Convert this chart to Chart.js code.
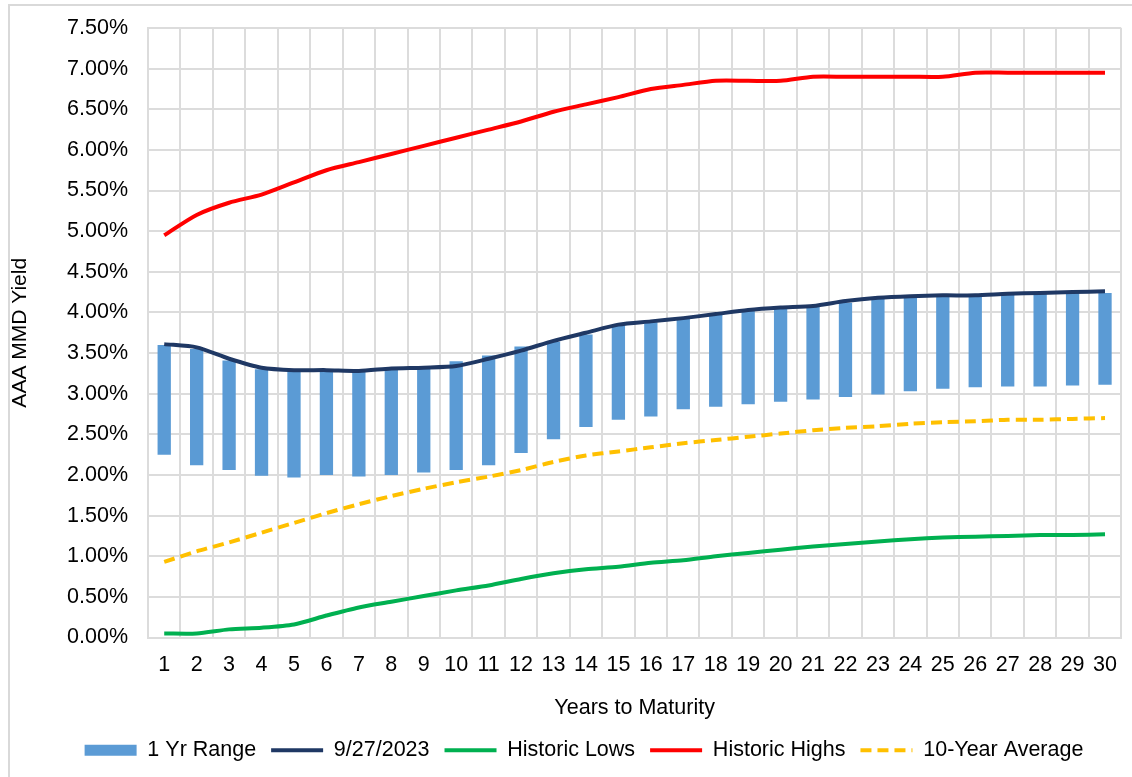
<!DOCTYPE HTML>
<html>
    <head>
        <meta charset="utf-8">
        <title>AAA MMD Yield Curve</title>
        <script src="https://cdn.jsdelivr.net/npm/chart.js"></script>
        <style>
            body {
                margin: 0;
                background: #ffffff;
                overflow: hidden;
            }
            .frame {
                position: absolute;
                left: 8px;
                top: 4px;
                width: 1200px;
                height: 900px;
                border: 2px solid #d9d9d9;
            }
            .chartContainer {
                position: absolute;
                left: 0;
                top: 0;
                width: 1132px;
                height: 777px;
            }
        </style>
    </head>
    <body>
        <div class="frame"></div>
        <div class="chartContainer">
            <canvas id="yieldCurve"></canvas>
        </div>
        <script>
            const years = ['1','2','3','4','5','6','7','8','9','10','11','12','13','14','15',
                           '16','17','18','19','20','21','22','23','24','25','26','27','28','29','30'];

            // 1 Yr Range (low / high), in percent
            const rangeLow = [2.25, 2.12, 2.06, 1.99, 1.97, 2.00, 1.98, 2.00, 2.03, 2.06,
                              2.12, 2.27, 2.44, 2.59, 2.68, 2.72, 2.81, 2.84, 2.87, 2.90,
                              2.93, 2.96, 2.99, 3.03, 3.06, 3.08, 3.09, 3.09, 3.10, 3.11];
            const rangeHigh = [3.60, 3.55, 3.41, 3.30, 3.28, 3.28, 3.27, 3.30, 3.32, 3.40,
                               3.47, 3.58, 3.64, 3.73, 3.84, 3.88, 3.92, 3.97, 4.02, 4.05,
                               4.07, 4.12, 4.17, 4.19, 4.20, 4.20, 4.22, 4.23, 4.24, 4.24];

            const current = [3.61, 3.57, 3.43, 3.32, 3.29, 3.29, 3.28, 3.31, 3.32, 3.34,
                             3.43, 3.53, 3.65, 3.75, 3.85, 3.89, 3.93, 3.98, 4.03, 4.06,
                             4.08, 4.14, 4.18, 4.20, 4.21, 4.21, 4.23, 4.24, 4.25, 4.26];

            const historicLows = [0.05, 0.05, 0.10, 0.12, 0.16, 0.27, 0.37, 0.44, 0.51, 0.58,
                                  0.64, 0.72, 0.79, 0.84, 0.87, 0.92, 0.95, 1.00, 1.04, 1.08,
                                  1.12, 1.15, 1.18, 1.21, 1.23, 1.24, 1.25, 1.26, 1.26, 1.27];

            const historicHighs = [4.95, 5.20, 5.35, 5.45, 5.60, 5.75, 5.85, 5.95, 6.05, 6.15,
                                   6.25, 6.35, 6.47, 6.56, 6.65, 6.75, 6.80, 6.85, 6.85, 6.85,
                                   6.90, 6.90, 6.90, 6.90, 6.90, 6.95, 6.95, 6.95, 6.95, 6.95];

            const tenYearAvg = [0.93, 1.06, 1.17, 1.29, 1.41, 1.53, 1.64, 1.74, 1.83, 1.91,
                                1.98, 2.06, 2.16, 2.24, 2.29, 2.34, 2.39, 2.43, 2.47, 2.51,
                                2.55, 2.58, 2.60, 2.63, 2.65, 2.66, 2.68, 2.68, 2.69, 2.70];

            const gridColor = '#dcdcdc';
            const fontFamily = '"Liberation Sans", Arial, sans-serif';

            function lineDataset(label, values, color, dash) {
                return {
                    type: 'line',
                    label: label,
                    data: values,
                    borderColor: color,
                    backgroundColor: color,
                    borderWidth: 4,
                    borderDash: dash || [],
                    pointRadius: 0,
                    tension: 0.25,
                    order: 1
                };
            }

            // move legend so that it is centred on the whole (cropped) chart frame
            const shiftLegend = {
                id: 'shiftLegend',
                afterLayout(chart) {
                    chart.legend.left += 19;
                    chart.legend.right += 19;
                }
            };

            const rangeBars = years.map((y, i) => [rangeLow[i], rangeHigh[i]]);

            const config = {
                type: 'bar',
                data: {
                    labels: years,
                    datasets: [
                        {
                            type: 'bar',
                            label: '1 Yr Range',
                            data: rangeBars,
                            backgroundColor: '#5b9bd5',
                            borderWidth: 0,
                            barPercentage: 0.41,
                            categoryPercentage: 1,
                            order: 5
                        },
                        lineDataset('9/27/2023', current, '#1f3864'),
                        lineDataset('Historic Lows', historicLows, '#00b050'),
                        lineDataset('Historic Highs', historicHighs, '#ff0000'),
                        lineDataset('10-Year Average', tenYearAvg, '#ffc000', [11, 6])
                    ]
                },
                options: {
                    responsive: true,
                    maintainAspectRatio: false,
                    animation: false,
                    devicePixelRatio: 1,
                    layout: {
                        padding: { top: 28, right: 2, bottom: 6, left: 0 }
                    },
                    font: { family: fontFamily, size: 21.5 },
                    color: '#000000',
                    plugins: {
                        tooltip: { enabled: false },
                        legend: {
                            position: 'bottom',
                            labels: {
                                usePointStyle: true,
                                pointStyleWidth: 52,
                                boxHeight: 11,
                                padding: 15,
                                color: '#000000',
                                font: { family: fontFamily, size: 21.5 },
                                generateLabels: function(chart) {
                                    return chart.data.datasets.map(function(ds, i) {
                                        const isLine = ds.type === 'line';
                                        return {
                                            text: ds.label,
                                            datasetIndex: i,
                                            fillStyle: ds.backgroundColor,
                                            strokeStyle: isLine ? ds.borderColor : ds.backgroundColor,
                                            lineWidth: isLine ? 4 : 0,
                                            lineDash: ds.borderDash || [],
                                            pointStyle: isLine ? 'line' : 'rect',
                                            hidden: false
                                        };
                                    });
                                }
                            }
                        }
                    },
                    scales: {
                        x: {
                            grid: {
                                color: gridColor,
                                lineWidth: 2,
                                drawTicks: false,
                                offset: true
                            },
                            border: { color: gridColor, width: 2 },
                            ticks: {
                                padding: 15,
                                color: '#000000',
                                maxRotation: 0,
                                autoSkip: false,
                                font: { family: fontFamily, size: 21.5 }
                            },
                            title: {
                                display: true,
                                text: 'Years to Maturity',
                                color: '#000000',
                                padding: { top: 16, bottom: 4 },
                                font: { family: fontFamily, size: 21.5 }
                            },
                            afterFit: function(scale) {
                                scale.height = 87;
                            }
                        },
                        y: {
                            min: 0,
                            max: 7.5,
                            grid: {
                                color: gridColor,
                                lineWidth: 2,
                                drawTicks: false
                            },
                            border: { color: gridColor, width: 2 },
                            ticks: {
                                stepSize: 0.5,
                                padding: 20,
                                color: '#000000',
                                font: { family: fontFamily, size: 21.5 },
                                callback: function(val) {
                                    return val.toFixed(2) + '%';
                                }
                            },
                            title: {
                                display: true,
                                text: 'AAA MMD Yield',
                                color: '#000000',
                                padding: { top: 8, bottom: 4 },
                                font: { family: fontFamily, size: 21 }
                            },
                            afterFit: function(scale) {
                                scale.width = 148;
                                // tick padding is only horizontal here, keep label overflow small
                                scale.paddingTop = 13;
                                scale.paddingBottom = 13;
                            }
                        }
                    }
                },
                plugins: [shiftLegend]
            };

            new Chart(document.getElementById('yieldCurve').getContext('2d'), config);
        </script>
    </body>
</html>
